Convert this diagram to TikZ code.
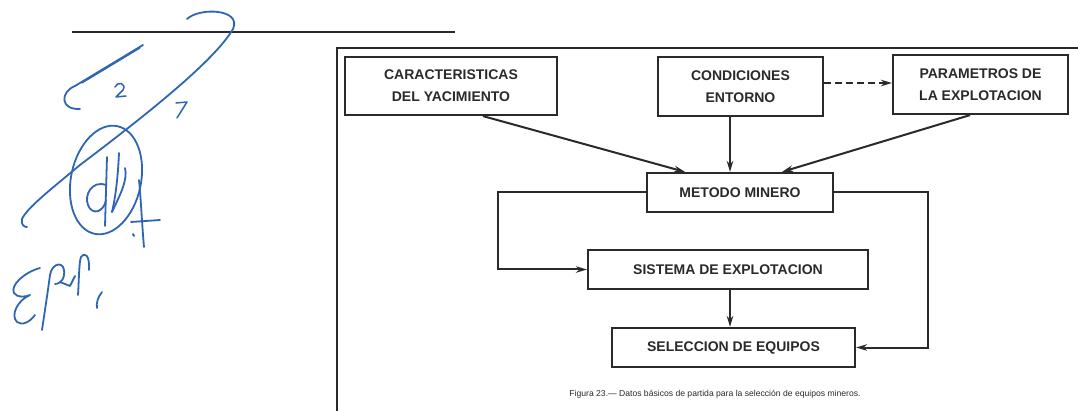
\documentclass[tikz,border=0pt]{standalone}
\usepackage{fontspec}
\setmainfont{Liberation Sans}
\usetikzlibrary{arrows.meta}
\definecolor{ink}{HTML}{2A2A2A}
\definecolor{pen}{HTML}{2F66B3}
\tikzset{
  blk/.style={draw=ink, line width=2.2pt, inner sep=0pt, align=center,
    text=ink, font=\fontsize{14}{22}\selectfont\bfseries},
  conn/.style={draw=ink, line width=2pt, -{Stealth[length=11pt,width=6.5pt]}},
  handw/.style={draw=pen, line width=1.8pt, line cap=round, line join=round},
}
\begin{document}
\begin{tikzpicture}[x=1pt,y=-1pt]
\useasboundingbox (0,0) rectangle (1078,411);
\fill[white] (0,0) rectangle (1078,411);
% rule and frame
\draw[ink, line width=1.8pt] (72,32) -- (455,32);
\draw[ink, line width=2.8pt] (1078,48) -- (337,48) -- (337,411);
% boxes
\node[blk, minimum width=212pt, minimum height=58pt] (car) at (451,86) {CARACTERISTICAS\\DEL YACIMIENTO};
\node[blk, minimum width=165pt, minimum height=59pt] (con) at (740.5,86.5) {CONDICIONES\\ENTORNO};
\node[blk, minimum width=175pt, minimum height=59pt] (par) at (980.5,84.5) {PARAMETROS DE\\LA EXPLOTACION};
\node[blk, minimum width=186pt, minimum height=39pt] (met) at (740,192.5) {METODO MINERO};
\node[blk, minimum width=280pt, minimum height=39pt] (sis) at (728,269.5) {SISTEMA DE EXPLOTACION};
\node[blk, minimum width=243pt, minimum height=39pt] (sel) at (733.5,347.5) {SELECCION DE EQUIPOS};
% connectors
\draw[conn, dash pattern=on 7pt off 4pt] ([yshift=3.5pt]con.east) -- ([yshift=1.5pt]par.west);
\draw[conn] ([xshift=32pt]car.south) -- ([xshift=-55pt]met.north);
\draw[conn] ([xshift=-10.5pt]con.south) -- ([xshift=-10pt]met.north);
\draw[conn] ([xshift=-10.5pt]par.south) -- ([xshift=42pt]met.north);
\draw[conn] (met.west) -- ++(-148,0) |- (sis.west);
\draw[conn] (met.east) -- ++(94,0) |- (sel.east);
\draw[conn] ([xshift=2pt]sis.south) -- ([xshift=-3.5pt]sel.north);
% caption
\node[text=ink, font=\fontsize{8.6}{10}\selectfont] (cap) at (715,394) {Figura 23.— Datos básicos de partida para la selección de equipos mineros.};
% handwriting
\draw[handw] (187,19) .. controls (200,7) and (242,9) .. (233,29)
  .. controls (215,60) and (150,112) .. (80,165)
  .. controls (50,190) and (27,208) .. (22,219)
  .. controls (21,225) and (24,227) .. (27,227);
\draw[handw] (143,45) -- (75,86);
\draw[handw, line width=1.2pt] (140,48) -- (82,83);
\draw[handw] (75,86) .. controls (60,92) and (60,110) .. (80,109);
\draw[handw, line width=1.5pt] (115,87) .. controls (117,81) and (127,83) .. (123,90) -- (116,97) -- (126,96);
\draw[handw, line width=1.5pt] (176,103) -- (187,102) -- (177,118);
\draw[handw, rotate around={-12:(106,180)}] (106,180) ellipse [x radius=35, y radius=55];
\draw[handw] (106,185) .. controls (92,180) and (84,195) .. (88,205) .. controls (92,216) and (104,212) .. (106,200);
\draw[handw] (107,157) -- (105,226);
\draw[handw] (119,153) .. controls (118,175) and (116,195) .. (112,212);
\draw[handw] (112,212) .. controls (120,195) and (128,180) .. (125,168);
\draw[handw] (139,180) .. controls (141,200) and (142,225) .. (144,247);
\draw[handw] (131,222) -- (160,220);
\draw[handw] (133,234) -- (134,236);
% EPL,
\draw[handw] (40,268) .. controls (25,272) and (10,285) .. (14,293)
  .. controls (17,298) and (26,297) .. (30,295)
  .. controls (18,300) and (10,315) .. (17,322)
  .. controls (22,326) and (30,322) .. (35,315);
\draw[handw] (42,330) .. controls (45,310) and (48,290) .. (50,275)
  .. controls (52,262) and (66,260) .. (64,275)
  .. controls (63,282) and (58,284) .. (55,284);
\draw[handw] (60,282) -- (70,286) -- (75,276);
\draw[handw] (78,295) .. controls (79,280) and (79,262) .. (81,257)
  .. controls (84,252) and (90,254) .. (89,270);
\draw[handw] (102,292) .. controls (98,297) and (96,303) .. (97,308);
\end{tikzpicture}
\end{document}
